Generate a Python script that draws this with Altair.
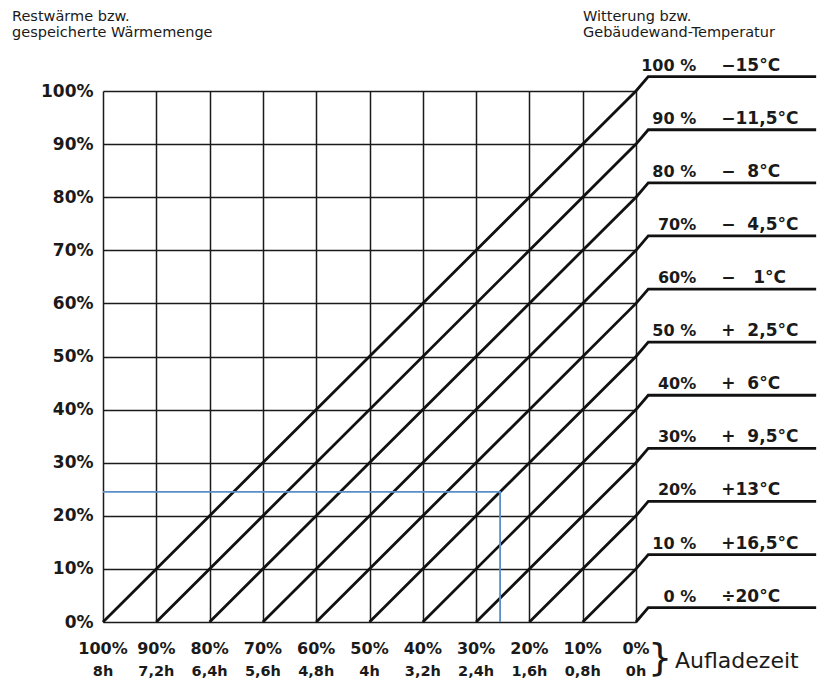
import altair as alt
import pandas as pd

# ---- values ----
grid_values = [0, 10, 20, 30, 40, 50, 60, 70, 80, 90, 100]
charge_pct = [100, 90, 80, 70, 60, 50, 40, 30, 20, 10, 0]
charge_pct_labels = ["100%", "90%", "80%", "70%", "60%", "50%", "40%", "30%", "20%", "10%", "0%"]
charge_hours = ["8h", "7,2h", "6,4h", "5,6h", "4,8h", "4h", "3,2h", "2,4h", "1,6h", "0,8h", "0h"]

levels = [100, 90, 80, 70, 60, 50, 40, 30, 20, 10, 0]
level_pct_labels = ["100 %", "90 %", "80 %", "70%", "60%", "50 %", "40%", "30%", "20%", "10 %", "0 %"]
level_temps = ["\u221215°C", "\u221211,5°C", "\u2212\u00a0\u00a08°C", "\u2212\u00a0\u00a04,5°C",
               "\u2212\u00a0\u00a0\u00a01°C", "+\u00a0\u00a02,5°C", "+\u00a0\u00a06°C", "+\u00a0\u00a09,5°C",
               "+13°C", "+16,5°C", "÷20°C"]

blue_rest = 24.5      # Restwärme in %
blue_charge = 25.5    # Aufladezeit in %

left_title = ["Restwärme bzw.", "gespeicherte Wärmemenge"]
right_title = ["Witterung bzw.", "Gebäudewand-Temperatur"]
axis_title = "Aufladezeit"

# ---- geometry of the kinked lines ----
bend_u, bend_v, end_u = 2.3, 2.7, 133.8

rows = []
for L in levels:
    pts = [(100 - L, 0), (100, L), (100 + bend_u, L + bend_v), (end_u, L + bend_v)]
    for i, (u, v) in enumerate(pts):
        rows.append({"level": L, "order": i, "u": u, "v": v})
lines_df = pd.DataFrame(rows)

blue_df = pd.DataFrame({
    "order": [0, 1, 2],
    "u": [0, 100 - blue_charge, 100 - blue_charge],
    "v": [blue_rest, blue_rest, 0],
})

xlab_df = pd.DataFrame({"u": [100 - p for p in charge_pct], "pct": charge_pct_labels, "hrs": charge_hours})
right_df = pd.DataFrame({"v": [L + bend_v for L in levels], "pct": level_pct_labels, "temp": level_temps})

xs = alt.Scale(domain=[0, 100], nice=False, zero=False)
ys = alt.Scale(domain=[0, 100], nice=False, zero=False)

BOLD = dict(font="DejaVu Sans", fontWeight="bold", color="#1a1a1a")

lines = alt.Chart(lines_df).mark_line(color="#111111", strokeWidth=2.8, strokeCap="butt").encode(
    x=alt.X("u:Q", scale=xs, axis=alt.Axis(values=grid_values, grid=True, labels=False, ticks=False,
                                            domain=False, title=None, gridColor="#1a1a1a",
                                            gridWidth=1.5, gridOpacity=1)),
    y=alt.Y("v:Q", scale=ys, axis=alt.Axis(values=grid_values, grid=True, ticks=False, domain=False,
                                            title=None, gridColor="#1a1a1a", gridWidth=1.5,
                                            gridOpacity=1, labelExpr="datum.value + '%'",
                                            labelFont="DejaVu Sans", labelFontWeight="bold",
                                            labelFontSize=17, labelColor="#1a1a1a", labelPadding=10)),
    detail="level:N",
    order="order:Q",
)

blue = alt.Chart(blue_df).mark_line(color="#5b8fc9", strokeWidth=1.8).encode(
    x=alt.X("u:Q", scale=xs), y=alt.Y("v:Q", scale=ys), order="order:Q"
)

xpct = alt.Chart(xlab_df).mark_text(fontSize=16, baseline="middle", dy=27, **BOLD).encode(
    x=alt.X("u:Q", scale=xs), y=alt.datum(0), text="pct:N"
)
xhrs = alt.Chart(xlab_df).mark_text(fontSize=14.5, baseline="middle", dy=50, **BOLD).encode(
    x=alt.X("u:Q", scale=xs), y=alt.datum(0), text="hrs:N"
)

rpct = alt.Chart(right_df).mark_text(fontSize=16, align="right", baseline="alphabetic", dy=-6, **BOLD).encode(
    x=alt.datum(111.3), y=alt.Y("v:Q", scale=ys), text="pct:N"
)
rtemp = alt.Chart(right_df).mark_text(fontSize=17, align="left", baseline="alphabetic", dy=-6, **BOLD).encode(
    x=alt.datum(116.0), y=alt.Y("v:Q", scale=ys), text="temp:N"
)

def note(txt, x, y, size, align="left", baseline="alphabetic", weight="normal"):
    return alt.Chart(pd.DataFrame({"t": [txt]})).mark_text(
        font="DejaVu Sans", fontSize=size, fontWeight=weight, align=align, baseline=baseline,
        color="#1a1a1a"
    ).encode(x=alt.value(x), y=alt.value(y), text="t:N")

t_left1 = note(left_title[0], -91, -70, 14.5)
t_left2 = note(left_title[1], -91, -54, 14.5)
t_right1 = note(right_title[0], 480, -70, 14.5)
t_right2 = note(right_title[1], 480, -54, 14.5)
brace = note("}", 557, 568, 38, align="center", baseline="middle")
t_axis = note(axis_title, 572, 570, 22, baseline="middle")

chart = alt.layer(lines, blue, xpct, xhrs, rpct, rtemp, t_left1, t_left2, t_right1, t_right2,
                  brace, t_axis).properties(
    width=533, height=531,
    autosize=alt.AutoSizeParams(type="none"),
    padding={"left": 95, "top": 83, "right": 184, "bottom": 70},
).configure_view(stroke=None).configure(background="white")

chart.save("out.html", embed_options={"renderer": "svg", "actions": False})
